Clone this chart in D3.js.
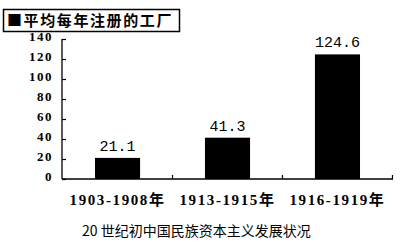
<!DOCTYPE html>
<html>
<head>
<meta charset="utf-8">
<script src="https://cdn.jsdelivr.net/npm/d3@7"></script>
<style>
    body { margin: 0; background: #fff; }
    svg { display: block; }
</style>
</head>
<body>
<div id="space"></div>
<script>
var periods = ["1903-1908年", "1913-1915年", "1916-1919年"];
var factories = [21.1, 41.3, 124.6];
var y_ticks = [0, 20, 40, 60, 80, 100, 120, 140];
var title_text = "■平均每年注册的工厂";
var caption_text = "20 世纪初中国民族资本主义发展状况";

var svg, x, y;

init();

function init() {
    svg = d3.select("#space").append("svg")
        .attr("width", 403)
        .attr("height", 246);

    svg.append("rect").attr("width", 403).attr("height", 246).attr("fill", "#fff");

    x = d3.scaleBand().domain(periods).range([62, 393]).paddingInner(0.59).paddingOuter(0.3);
    y = d3.scaleLinear().domain([0, 140]).range([179, 39]);

    drawTitle();
    drawBars();
    drawAxes();
    drawCaption();
}

function drawTitle() {
    svg.append("rect")
        .attr("x", 3.5).attr("y", 9.5)
        .attr("width", 176).attr("height", 22)
        .attr("fill", "none")
        .attr("stroke", "#000")
        .attr("stroke-width", 1.5);

    svg.append("text")
        .attr("x", 7).attr("y", 26)
        .attr("font-family", "'Noto Sans CJK SC', sans-serif")
        .attr("font-weight", "bold")
        .attr("font-size", 15)
        .attr("letter-spacing", 1.6)
        .attr("fill", "#000")
        .text(title_text);
}

function drawBars() {
    svg.append("g").selectAll("rect")
        .data(factories)
        .join("rect")
        .attr("x", function (d, i) { return x(periods[i]); })
        .attr("y", function (d) { return y(d); })
        .attr("width", x.bandwidth())
        .attr("height", function (d) { return y(0) - y(d); })
        .attr("fill", "#000");

    //Value labels above bars
    svg.append("g").selectAll("text")
        .data(factories)
        .join("text")
        .attr("x", function (d, i) { return x(periods[i]) + x.bandwidth() / 2; })
        .attr("y", function (d) { return y(d) - 7; })
        .attr("text-anchor", "middle")
        .attr("font-family", "'Liberation Mono', monospace")
        .attr("font-size", 15)
        .attr("fill", "#000")
        .text(function (d) { return d.toFixed(1); });
}

function drawAxes() {
    var yAxis = d3.axisRight(y).tickValues(y_ticks).tickSize(4).tickFormat("");
    var gy = svg.append("g").attr("transform", "translate(62,0)").call(yAxis);
    gy.select(".domain").attr("d", "M0," + y(140) + "V" + y(0)).attr("stroke-width", 1.3);
    gy.selectAll(".tick line").attr("stroke-width", 1.2);

    //Tick labels
    svg.append("g").selectAll("text")
        .data(y_ticks)
        .join("text")
        .attr("x", 53)
        .attr("y", function (d) { return y(d) + 2; })
        .attr("text-anchor", "end")
        .attr("font-family", "'Liberation Serif', serif")
        .attr("font-weight", "bold")
        .attr("font-size", 13)
        .attr("letter-spacing", 1.5)
        .attr("fill", "#000")
        .text(function (d) { return d; });

    //Category axis with separator ticks
    svg.append("line")
        .attr("x1", 62).attr("x2", 393)
        .attr("y1", y(0)).attr("y2", y(0))
        .attr("stroke", "#000").attr("stroke-width", 1.3);

    var step = x.step();
    var seps = periods.map(function (p) { return x(p) + x.bandwidth() / 2 + step / 2; });
    svg.append("g").selectAll("line")
        .data(seps)
        .join("line")
        .attr("x1", function (d) { return d; }).attr("x2", function (d) { return d; })
        .attr("y1", y(0)).attr("y2", y(0) - 4)
        .attr("stroke", "#000").attr("stroke-width", 1.2);

    svg.append("g").selectAll("text")
        .data(periods)
        .join("text")
        .attr("x", function (d) { return x(d) + x.bandwidth() / 2; })
        .attr("y", 205)
        .attr("text-anchor", "middle")
        .attr("font-family", "'Liberation Serif', 'Noto Sans CJK SC', serif")
        .attr("font-weight", "bold")
        .attr("font-size", 15)
        .attr("letter-spacing", 1.6)
        .attr("fill", "#000")
        .text(function (d) { return d; });
}

function drawCaption() {
    svg.append("text")
        .attr("x", 82).attr("y", 236)
        .attr("font-family", "'Noto Sans CJK SC', sans-serif")
        .attr("font-size", 14)
        .attr("fill", "#000")
        .text(caption_text);
}
</script>
</body>
</html>
